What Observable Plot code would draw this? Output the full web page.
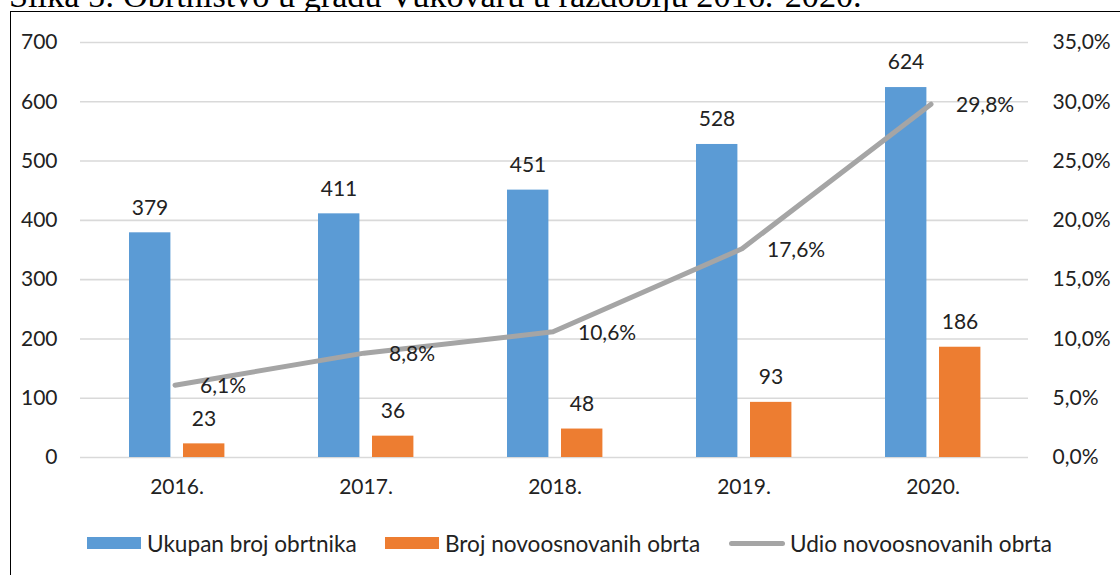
<!DOCTYPE html>
<html>
<head>
<meta charset="utf-8">
<script src="https://cdn.jsdelivr.net/npm/d3@7"></script>
<script src="https://cdn.jsdelivr.net/npm/@observablehq/plot@0.6"></script>
<style>
  body { margin: 0; background: #fff; }
  #wrap { position: relative; width: 1120px; height: 575px; overflow: hidden; background: #fff; font-family: Lato, sans-serif; }
  #titleSvg { position: absolute; left: 0; top: 0; }
  #frame { position: absolute; left: 10px; top: 11px; width: 1300px; height: 800px; border: 1.5px solid #000; box-sizing: border-box; }
  #chart { position: absolute; left: 0; top: 0; }
  .leg { position: absolute; top: 531px; height: 24px; display: flex; align-items: center; font-size: 22.6px; color: #222; white-space: nowrap; }
  .sw { width: 54px; height: 12px; margin-right: 6px; }
  .ln { width: 56px; height: 5px; border-radius: 3px; margin-right: 5px; }
</style>
</head>
<body>
<div id="wrap">
  <div id="frame"></div>
  <div id="chart"></div>
  <svg id="titleSvg" width="1120" height="12"><text id="title" x="9" y="7" font-family="'Liberation Serif','Times New Roman',serif" font-size="34" fill="#000">Slika 5: Obrtništvo u gradu Vukovaru u razdoblju 2016.-2020.</text></svg>
  <div class="leg" style="left:87px"><div class="sw" style="background:#5B9BD5"></div><span>Ukupan broj obrtnika</span></div>
  <div class="leg" style="left:385px"><div class="sw" style="background:#ED7D31"></div><span>Broj novoosnovanih obrta</span></div>
  <div class="leg" style="left:729px"><div class="ln" style="background:#A5A5A5"></div><span>Udio novoosnovanih obrta</span></div>
</div>
<script>
// ---- data ----
const years = ["2016.", "2017.", "2018.", "2019.", "2020."];
const totalCrafts = [379, 411, 451, 528, 624];          // Ukupan broj obrtnika
const newCrafts = [23, 36, 48, 93, 186];                 // Broj novoosnovanih obrta
const newShare = [6.1, 8.8, 10.6, 17.6, 29.8];           // Udio novoosnovanih obrta (%)
const leftTicks = [0, 100, 200, 300, 400, 500, 600, 700];
const rightTickLabels = ["0,0%", "5,0%", "10,0%", "15,0%", "20,0%", "25,0%", "30,0%", "35,0%"];

// secondary axis: 35% maps onto the top of the 0–700 primary axis
const pctToLeft = 700 / 35;
const fmtPct = v => v.toFixed(1).replace(".", ",") + "%";

const totalData = years.map((y, i) => ({year: y, value: totalCrafts[i]}));
const newData = years.map((y, i) => ({year: y, value: newCrafts[i]}));
const shareData = years.map((y, i) => ({year: y, pct: newShare[i], yv: newShare[i] * pctToLeft}));

const W = 1120, H = 510;
const mL = 80, mR = 92;
const band = (W - mL - mR) / years.length;

const chart = Plot.plot({
  width: W,
  height: H,
  marginLeft: mL,
  marginRight: mR,
  marginTop: 42,
  marginBottom: 53,
  style: { fontFamily: "Lato, sans-serif", fontSize: "21px", color: "#222", background: "transparent" },
  x: { domain: years, padding: 0 },
  y: { domain: [0, 700] },
  marks: [
    Plot.ruleY(leftTicks, { stroke: "#d9d9d9", strokeWidth: 1.6 }),
    Plot.barY(totalData, { x: "year", y: "value", fill: "#5B9BD5", insetLeft: 47, insetRight: band - 89 }),
    Plot.barY(newData, { x: "year", y: "value", fill: "#ED7D31", insetLeft: 101, insetRight: band - 143 }),
    Plot.line(shareData, { x: "year", y: "yv", stroke: "#A5A5A5", strokeWidth: 5, strokeLinecap: "round", strokeLinejoin: "round", dx: -2 }),
    Plot.text(totalData, { x: "year", y: "value", text: d => String(d.value), dx: -27, dy: -25, lineAnchor: "middle", fill: "#222" }),
    Plot.text(newData, { x: "year", y: "value", text: d => String(d.value), dx: 27, dy: -25, lineAnchor: "middle", fill: "#222" }),
    Plot.text(shareData, { x: "year", y: "yv", text: d => fmtPct(d.pct), dx: 23, dy: 1, textAnchor: "start", lineAnchor: "middle", fill: "#222" }),
    Plot.axisX({ tickSize: 0, tickPadding: 22, label: null, fill: "#222" }),
    Plot.axisY(leftTicks, { anchor: "left", tickSize: 0, tickPadding: 23, label: null, fill: "#222" }),
    Plot.axisY(leftTicks, { anchor: "right", tickSize: 0, tickPadding: 24, label: null, fill: "#222",
      tickFormat: (d, i) => rightTickLabels[leftTicks.indexOf(d)] })
  ]
});
document.getElementById("chart").appendChild(chart);

// fit the (clipped) caption so it spans the same width as in the source page
const t = document.getElementById("title");
const len = t.getComputedTextLength();
if (len > 0) t.setAttribute("font-size", (34 * 853 / len).toFixed(2));
</script>
</body>
</html>
